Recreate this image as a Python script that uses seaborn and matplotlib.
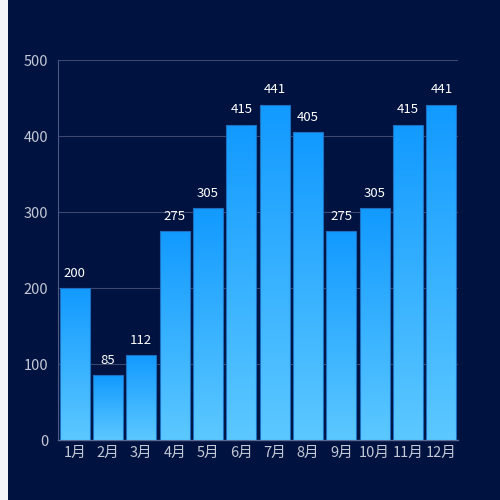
import numpy as np
import pandas as pd
import seaborn as sns
import matplotlib.pyplot as plt
from matplotlib.colors import LinearSegmentedColormap
from matplotlib.patches import Rectangle

months = ['1月', '2月', '3月', '4月', '5月', '6月', '7月', '8月', '9月', '10月', '11月', '12月']
values = [200, 85, 112, 275, 305, 415, 441, 405, 275, 305, 415, 441]

sns.set_style('white')
plt.rcParams['font.family'] = ['Noto Sans CJK SC', 'DejaVu Sans']

bg = '#00123f'
grid_c = '#3b4872'
tick_c = '#c3c8d6'

fig = plt.figure(figsize=(5, 5), dpi=100, facecolor=bg)
# light strip on the left edge
fig.patches.append(Rectangle((0, 0), 8 / 500, 1, transform=fig.transFigure,
                             facecolor='#f2f4f9', edgecolor='none', zorder=0))
ax = fig.add_axes([0.116, 0.12, 0.8, 0.76])
ax.set_facecolor(bg)

df = pd.DataFrame({'month': months, 'value': values})
sns.barplot(data=df, x='month', y='value', ax=ax, width=0.9,
            color='#1a9cff', edgecolor='#1f6fc0', linewidth=0.8, zorder=3)

cmap = LinearSegmentedColormap.from_list('grad', ['#5cc8ff', '#129aff'])
grad = np.linspace(0, 1, 256).reshape(-1, 1)
for p in ax.patches:
    x0, y0 = p.get_x(), p.get_y()
    w, h = p.get_width(), p.get_height()
    im = ax.imshow(grad, cmap=cmap, aspect='auto', origin='lower',
                   extent=[x0, x0 + w, y0, y0 + h], zorder=3.5)
    im.set_clip_path(p)
    p.set_facecolor('none')
    p.set_zorder(4)
    ax.text(x0 + w / 2, h + 11, str(int(h)), ha='center', va='bottom',
            color='white', fontsize=9.5, fontweight='medium', zorder=5)

ax.set_xlim(-0.5, len(months) - 0.5)
ax.set_ylim(0, 500)
ax.set_yticks(range(0, 501, 100))
ax.set_xlabel('')
ax.set_ylabel('')
ax.grid(axis='y', color=grid_c, linewidth=0.8, zorder=0)
ax.set_axisbelow(True)

for s in ['top', 'right']:
    ax.spines[s].set_visible(False)
ax.spines['left'].set_color('#4a5a85')
ax.spines['bottom'].set_color('#5a6a95')
ax.spines['left'].set_linewidth(0.8)
ax.spines['bottom'].set_linewidth(1.0)

ax.tick_params(axis='y', colors=grid_c, labelcolor=tick_c, labelsize=10.5,
               length=5, width=0.8, pad=2)
ax.set_xticks(np.arange(-0.5, len(months)), minor=True)
ax.tick_params(axis='x', which='major', length=0, labelcolor=tick_c,
               labelsize=10.5, pad=4)
ax.tick_params(axis='x', which='minor', length=5, width=0.8, color='#5a6a95')

fig.savefig('out.png', dpi=100, facecolor=bg)
